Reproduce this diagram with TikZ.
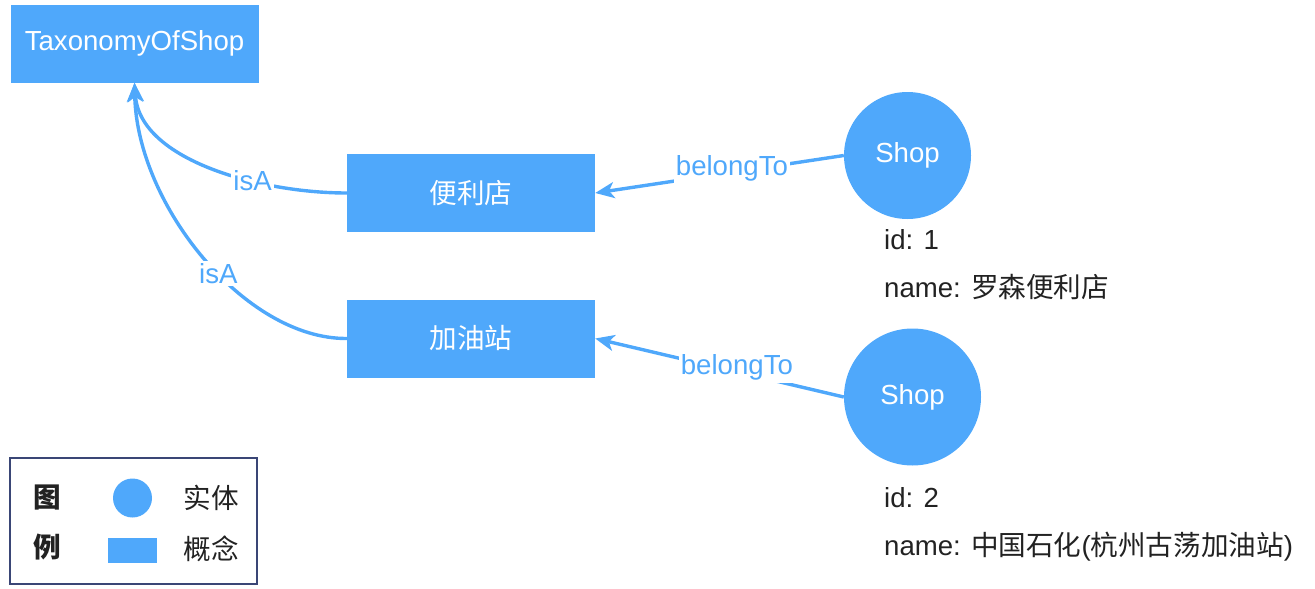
\documentclass[tikz,border=0pt]{standalone}
\usepackage{fontspec}
\setmainfont{Liberation Sans}
\newfontfamily\cjk{Noto Sans CJK SC}
\usetikzlibrary{arrows.meta}
\definecolor{kblue}{HTML}{4FA8FB}
\definecolor{kdark}{HTML}{222222}
\definecolor{knavy}{HTML}{3A4676}
\begin{document}
\begin{tikzpicture}[x=1pt,y=-1pt,
  every node/.style={font=\fontsize{27.6}{33}\selectfont},
  concept/.style={fill=kblue, text=white, minimum width=248pt, minimum height=78pt, inner sep=0pt},
  entity/.style={circle, fill=kblue, text=white, inner sep=0pt},
  rel/.style={draw=kblue, line width=3.4pt, -{Stealth[length=19pt,width=16pt,inset=5pt]}},
  rlabel/.style={fill=white, text=kblue, inner sep=2pt},
  attr/.style={text=kdark, anchor=base west, inner sep=0pt}]
\useasboundingbox (0,0) rectangle (1315,589);
\node[concept] (tax) at (134.5,43.5) {TaxonomyOfShop};
\node[concept] (conv) at (471,193) {\cjk 便利店};
\node[concept] (gas) at (471,338.5) {\cjk 加油站};
\node[entity, minimum size=127pt] (shop1) at (907.5,155.5) {Shop};
\node[entity, minimum size=137pt] (shop2) at (912.5,397) {Shop};

\draw[rel] (shop1.west) -- (conv.east) node[rlabel, pos=0.45, yshift=4pt] {belongTo};
\draw[rel] (shop2.west) -- (gas.east) node[rlabel, pos=0.43, yshift=4pt] {belongTo};
\draw[rel] (conv.west) .. controls (260,193) and (140,160) .. (tax.south) node[rlabel, pos=0.34] {isA};
\draw[rel] (gas.west) .. controls (245,339) and (137,205) .. (tax.south) node[rlabel, pos=0.44] {isA};

\node[attr] (a1) at (884,249) {id: 1};
\node[attr] (a2) at (884,297) {name: {\cjk 罗森便利店}};
\node[attr] (a3) at (884,507) {id: 2};
\node[attr] (a4) at (884,555) {name: {\cjk 中国石化}({\cjk 杭州古荡加油站})};

\node[draw=knavy, line width=2pt, minimum width=247pt, minimum height=126pt, inner sep=0pt] (legend) at (133,521) {};
\node[text=kdark] (tu) at (47.5,498) {\cjk\bfseries 图};
\node[text=kdark] (li) at (47.5,547) {\cjk\bfseries 例};
\node[circle, fill=kblue, minimum size=39pt, inner sep=0pt] (lgc) at (132.5,498) {};
\node[fill=kblue, minimum width=49pt, minimum height=25pt, inner sep=0pt] (lgr) at (132.5,550.5) {};
\node[text=kdark] (lge) at (211.5,498) {\cjk 实体};
\node[text=kdark] (lgk) at (211.5,549) {\cjk 概念};
\end{tikzpicture}
\end{document}
